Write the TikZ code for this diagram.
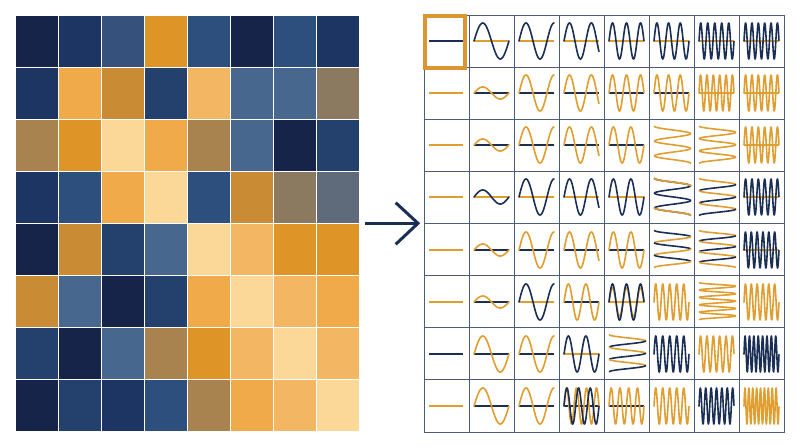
\documentclass[tikz,border=0pt]{standalone}
\usetikzlibrary{arrows.meta,calc}
\definecolor{cvd}{HTML}{16244A}
\definecolor{cdn}{HTML}{1D3562}
\definecolor{cnv}{HTML}{24416E}
\definecolor{cbl}{HTML}{2C4F7E}
\definecolor{cmb}{HTML}{35517C}
\definecolor{csl}{HTML}{48678F}
\definecolor{cgs}{HTML}{5F6B7B}
\definecolor{ctp}{HTML}{8B7A5F}
\definecolor{cbr}{HTML}{A8834F}
\definecolor{cbz}{HTML}{C98C34}
\definecolor{cor}{HTML}{DE9426}
\definecolor{clo}{HTML}{F0AA4A}
\definecolor{clp}{HTML}{F3B764}
\definecolor{cpl}{HTML}{FCD898}
\definecolor{navyw}{HTML}{1B2F55}
\definecolor{orw}{HTML}{E09E30}
\definecolor{gridc}{HTML}{4B5B7B}
\definecolor{hilite}{HTML}{DD9530}
\newcommand\mywave[5]{%
  \pgfmathsetmacro\xa{424+45*(#2-1)+5}%
  \pgfmathsetmacro\yc{round(15+52.125*(#1-1)+26)}%
  \draw[wave,#3] plot[domain=0:1,samples=220,smooth] ({\xa+35*\x},{\yc-#5*sin(360*#4*\x)});%
}
\newcommand\myaxis[3]{%
  \pgfmathsetmacro\xa{424+45*(#2-1)+5}%
  \pgfmathsetmacro\yc{round(15+52.125*(#1-1)+26)}%
  \draw[axisline,#3] (\xa,\yc) -- ++(35,0);%
}
% one stroke (half period) of a sideways zigzag: r c periods k colour
\newcommand\myswseg[5]{%
  \pgfmathsetmacro\xc{424+45*(#2-1)+23.5}%
  \pgfmathsetmacro\yt{15+52.125*(#1-1)+7}%
  \pgfmathsetmacro\ta{#4/(2*#3)}%
  \pgfmathsetmacro\tb{(#4+1)/(2*#3)}%
  \draw[wave,#5] plot[domain=\ta:\tb,samples=40,smooth] ({\xc-18*cos(360*#3*\x)},{\yt+37*\x});%
}
% whole zigzag, alternating colours: r c periods colEven colOdd
\newcommand\mysa[5]{%
  \pgfmathtruncatemacro\nh{round(2*#3)-1}%
  \foreach \k in {0,...,\nh}{%
    \pgfmathtruncatemacro\ev{mod(\k,2)}%
    \ifnum\ev=0 \def\mycc{#4}\else\def\mycc{#5}\fi
    \myswseg{#1}{#2}{#3}{\k}{\mycc}%
  }%
}
\begin{document}
\begin{tikzpicture}[x=1pt,y=-1pt,
  wave/.style={line width=1.6pt,line cap=round,line join=round},
  axisline/.style={line width=1.7pt},
  flatline/.style={line width=1.8pt},
  sq/.style={draw=white,line width=1.2pt},
  gridl/.style={draw=gridc,line width=1pt}]
\useasboundingbox (0,0) rectangle (800,447);
\fill[white] (0,0) rectangle (800,447);
% left grid
\foreach \row [count=\r] in {
  {cvd,cdn,cmb,cor,cbl,cvd,cbl,cdn},
  {cdn,clo,cbz,cnv,clp,csl,csl,ctp},
  {cbr,cor,cpl,clo,cbr,csl,cvd,cnv},
  {cdn,cbl,clo,cpl,cbl,cbz,ctp,cgs},
  {cvd,cbz,cnv,csl,cpl,clp,cor,cor},
  {cbz,csl,cvd,cnv,clo,cpl,clp,clo},
  {cnv,cvd,csl,cbr,cor,clp,cpl,clp},
  {cvd,cnv,cdn,cbl,cbr,clo,clp,cpl}}{
  \foreach \col [count=\c] in \row {
    \fill[sq,fill=\col] ({15+43.125*(\c-1)},{15+52.125*(\r-1)}) rectangle +(43.125,52.125);
  }
}
\node[minimum width=345pt,minimum height=417pt,inner sep=0pt,anchor=north west] (leftgrid) at (15,15) {};
% right grid
\node[gridl,draw,minimum width=360pt,minimum height=417pt,inner sep=0pt,anchor=north west] (rightgrid) at (424,15) {};
\foreach \i in {1,...,7}{
  \draw[gridl] ({424+45*\i},15) -- ({424+45*\i},432);
  \draw[gridl] (424,{15+52.125*\i}) -- (784,{15+52.125*\i});
}
% axes
\foreach \c in {2,...,8}{\myaxis{1}{\c}{orw}}
\foreach \c in {2,...,6}{\myaxis{2}{\c}{navyw}}
\myaxis{2}{7}{orw}\myaxis{2}{8}{orw}
\foreach \c in {2,...,5}{\myaxis{3}{\c}{navyw}}
\myaxis{3}{8}{orw}
\foreach \c in {2,3,4,5,8}{\myaxis{4}{\c}{orw}}
\foreach \c in {2,...,5}{\myaxis{5}{\c}{navyw}}
\myaxis{5}{8}{orw}
\myaxis{6}{2}{navyw}\myaxis{6}{3}{orw}\myaxis{6}{4}{navyw}\myaxis{6}{5}{orw}
\myaxis{7}{2}{navyw}\myaxis{7}{3}{navyw}\myaxis{7}{4}{orw}
\myaxis{8}{2}{navyw}\myaxis{8}{3}{navyw}\myaxis{8}{4}{navyw}\myaxis{8}{5}{navyw}
% row 1
\mywave{1}{2}{navyw}{1}{18}\mywave{1}{3}{navyw}{1.25}{18}\mywave{1}{4}{navyw}{1.6}{18}
\mywave{1}{5}{navyw}{2.5}{18}\mywave{1}{6}{navyw}{3}{18}\mywave{1}{7}{navyw}{5}{18}\mywave{1}{8}{navyw}{5.5}{18}
% row 2
\mywave{2}{2}{orw}{1}{6}\mywave{2}{3}{orw}{1.25}{18}\mywave{2}{4}{orw}{1.6}{18}
\mywave{2}{5}{orw}{2.5}{18}\mywave{2}{6}{orw}{3}{18}\mywave{2}{7}{orw}{5.5}{18}\mywave{2}{8}{orw}{5.5}{18}
% row 3
\mywave{3}{2}{orw}{1}{6}\mywave{3}{3}{orw}{1.25}{18}\mywave{3}{4}{orw}{1.6}{18}\mywave{3}{5}{orw}{2}{18}
\mysa{3}{6}{2.5}{orw}{orw}
\mysa{3}{7}{3}{orw}{orw}
\mywave{3}{8}{orw}{5.5}{18}
% row 4
\mywave{4}{2}{navyw}{1}{7}\mywave{4}{3}{navyw}{1.25}{18}\mywave{4}{4}{navyw}{1.6}{18}\mywave{4}{5}{navyw}{2}{18}
\mysa{4}{6}{2.5}{navyw}{navyw}
\myswseg{4}{6}{2.5}{0}{orw}\myswseg{4}{6}{2.5}{4}{orw}
\mysa{4}{7}{3}{orw}{navyw}
\mywave{4}{8}{navyw}{5.5}{18}
% row 5
\mywave{5}{2}{orw}{1}{6}\mywave{5}{3}{orw}{1.25}{18}\mywave{5}{4}{orw}{1.6}{18}\mywave{5}{5}{orw}{2}{18}
\mysa{5}{6}{3}{navyw}{orw}
\mysa{5}{7}{3.5}{orw}{navyw}
\mywave{5}{8}{navyw}{6}{18}
% row 6
\mywave{6}{2}{orw}{1}{6}\mywave{6}{3}{navyw}{1.25}{18}\mywave{6}{4}{orw}{2}{18}
\mywave{6}{5}{orw}{2.5}{14}\mywave{6}{5}{navyw}{2.5}{18}
\mywave{6}{6}{orw}{5}{18}\mysa{6}{7}{5}{orw}{orw}\mywave{6}{8}{orw}{6}{18}
% row 7
\mywave{7}{2}{orw}{1}{18}\mywave{7}{3}{orw}{1.25}{18}\mywave{7}{4}{navyw}{2}{18}
\mysa{7}{5}{3}{orw}{navyw}
\mywave{7}{6}{navyw}{5}{18}\mywave{7}{7}{orw}{5.5}{18}\mywave{7}{8}{navyw}{8}{18}
% row 8
\mywave{8}{2}{orw}{1}{18}\mywave{8}{3}{orw}{1.25}{18}
\mywave{8}{4}{orw}{3.5}{18}\mywave{8}{4}{navyw}{3}{18}
\mywave{8}{5}{orw}{4}{18}\mywave{8}{6}{orw}{5}{18}\mywave{8}{7}{navyw}{6.5}{18}\mywave{8}{8}{orw}{9}{18}
% flat lines column 1
\draw[flatline,navyw] (429,41) -- (463,41);
\draw[flatline,orw] (429,93) -- (463,93);
\draw[flatline,orw] (429,145) -- (463,145);
\draw[flatline,orw] (429,197) -- (463,197);
\draw[flatline,orw] (429,250) -- (463,250);
\draw[flatline,orw] (429,302) -- (463,302);
\draw[flatline,navyw] (429,354) -- (463,354);
\draw[flatline,orw] (429,406) -- (463,406);
% highlight
\draw[hilite,line width=4pt] (425.3,16) rectangle (465.3,68);
% arrow
\coordinate (as) at (365,223.3);
\coordinate (ae) at (418,223.3);
\draw[navyw,line width=3pt] (as) -- (ae);
\draw[navyw,line width=3pt,line join=miter] ($(ae)+(-22.3,-20.6)$) -- (ae) -- ($(ae)+(-22.3,21)$);
\end{tikzpicture}
\end{document}
